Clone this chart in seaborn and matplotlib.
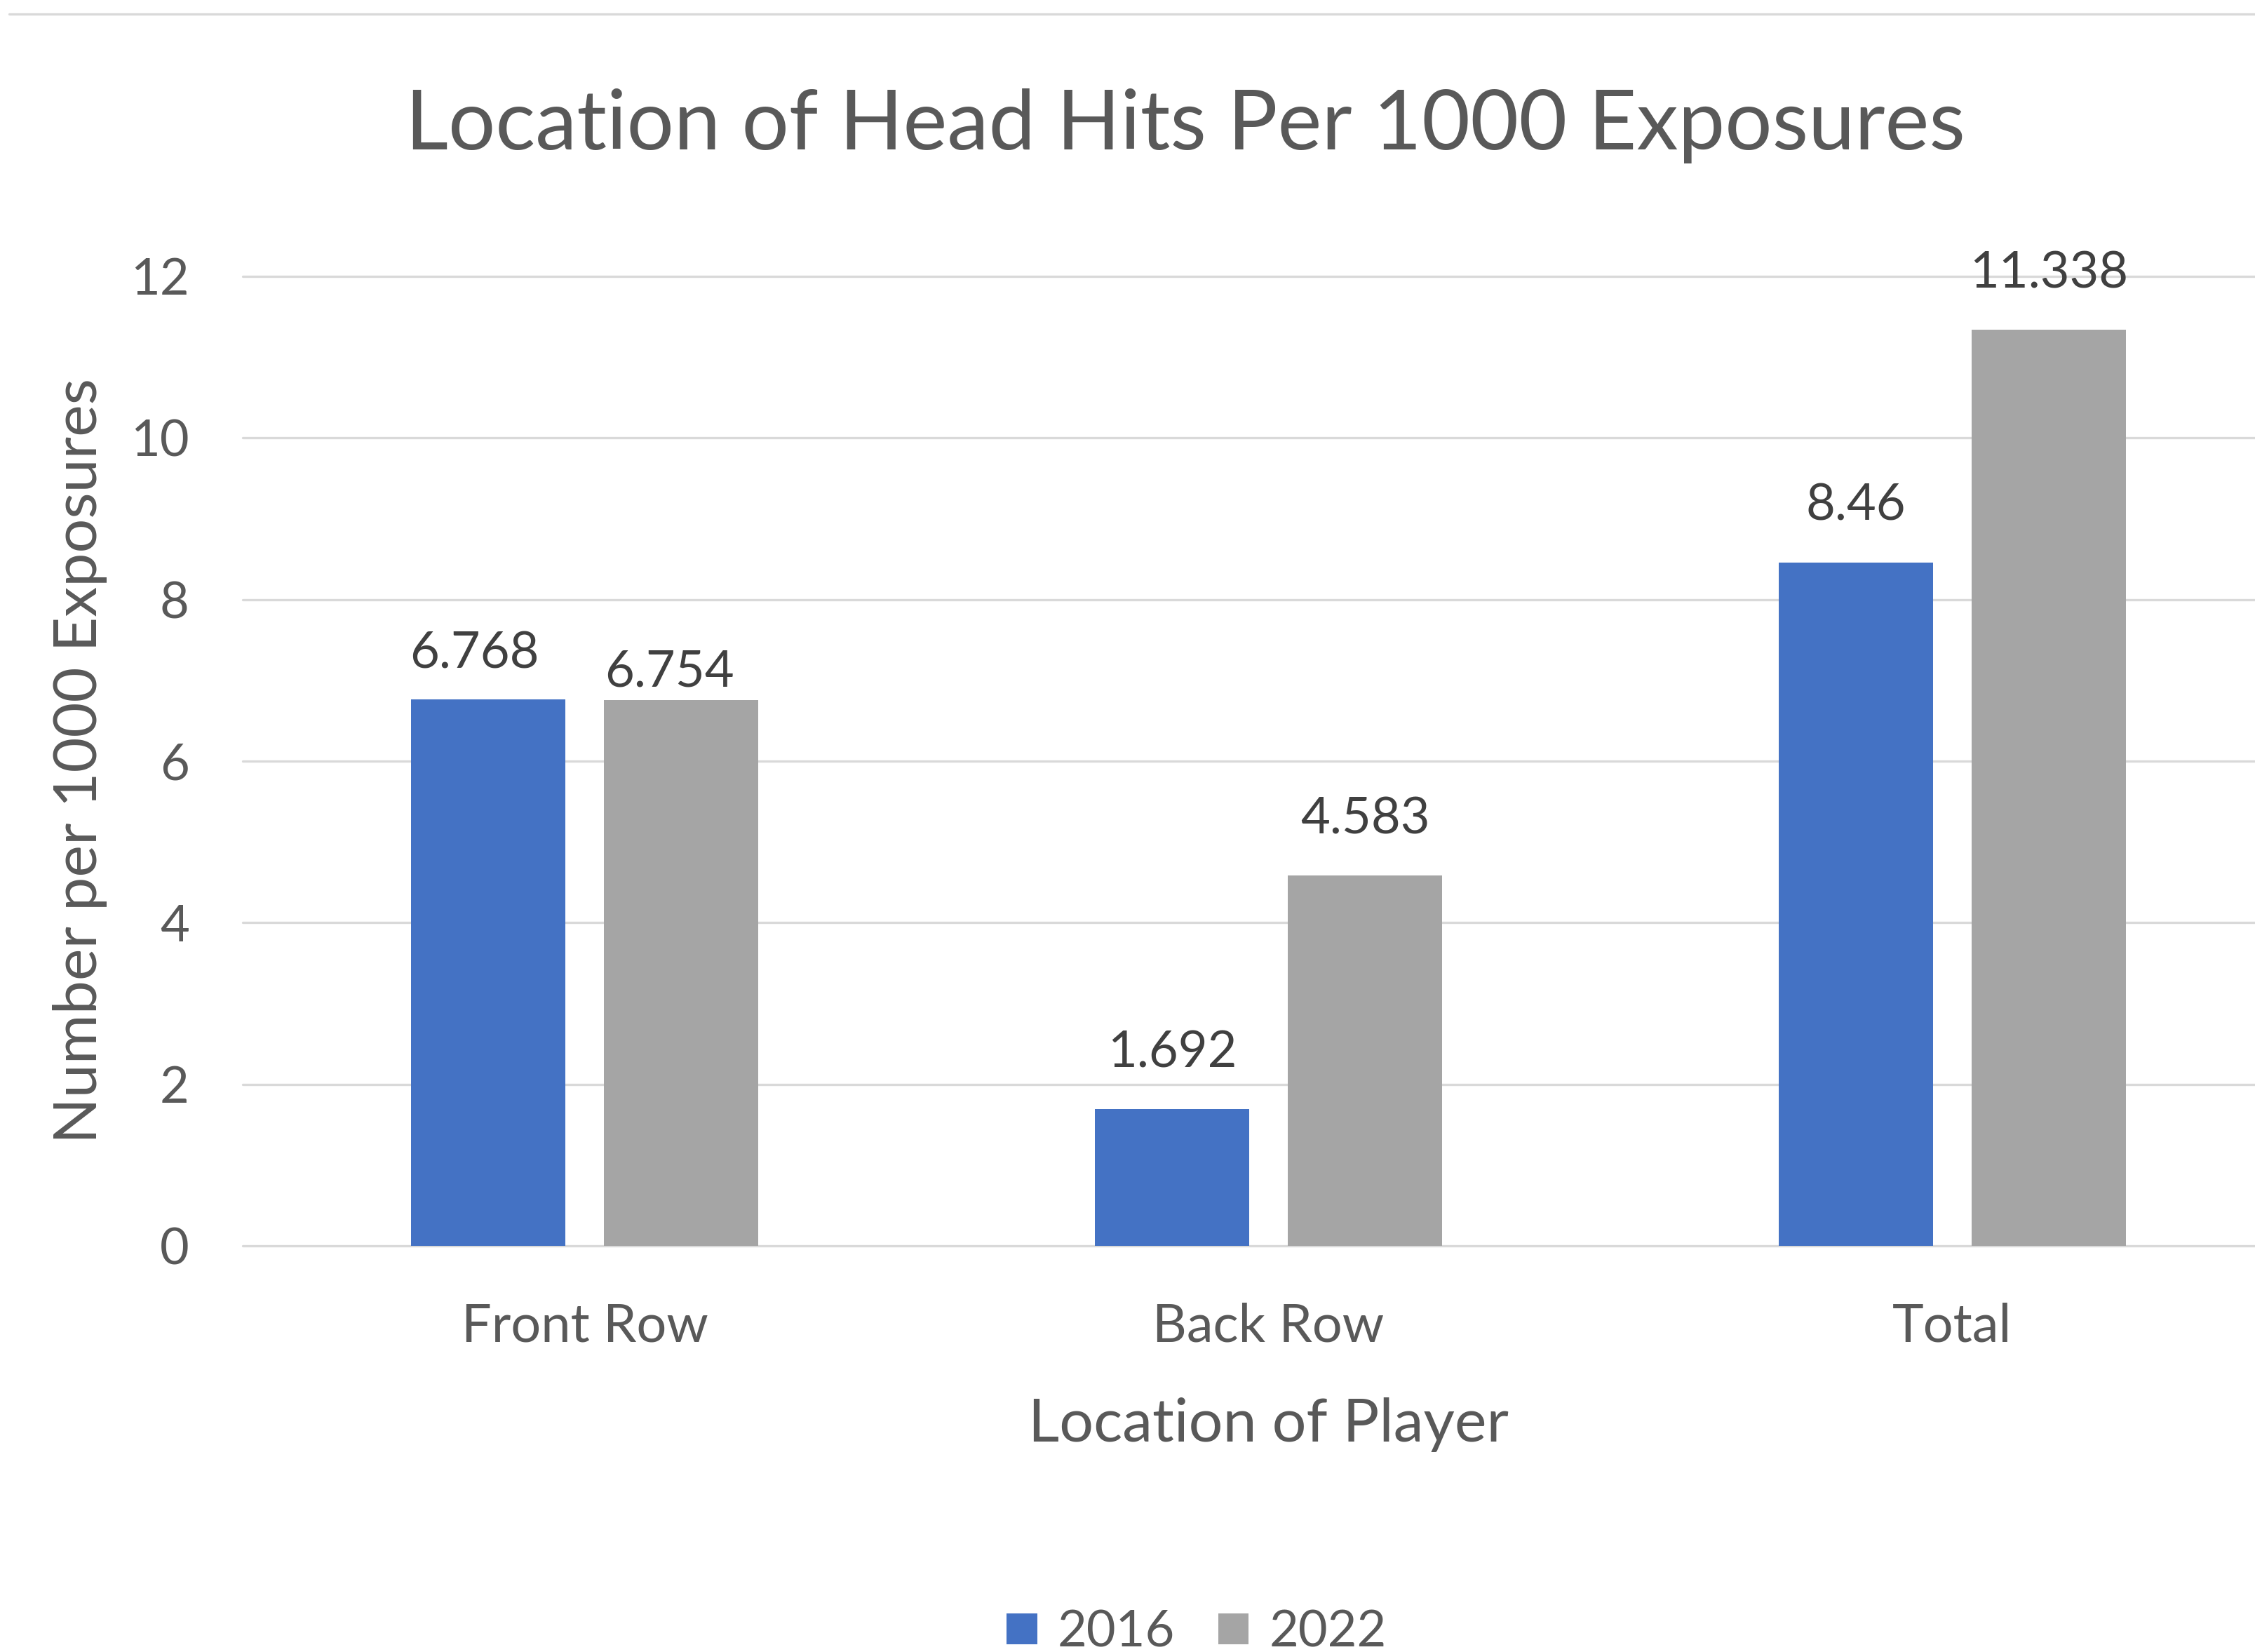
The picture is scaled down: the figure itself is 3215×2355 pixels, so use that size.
import matplotlib
matplotlib.use("Agg")
import matplotlib.pyplot as plt
from matplotlib.lines import Line2D
import seaborn as sns
import pandas as pd

# ---- data ----
categories = ["Front Row", "Back Row", "Total"]
years = ["2016", "2022"]
values_2016 = [6.768, 1.692, 8.46]
values_2022 = [6.754, 4.583, 11.338]
yticks = [0, 2, 4, 6, 8, 10, 12]
title = "Location of Head Hits Per 1000 Exposures"
xlabel = "Location of Player"
ylabel = "Number per 1000 Exposures"

# ---- styling ----
BLUE = "#4472C4"
GRAY = "#A5A5A5"
TEXT = "#595959"
LABEL = "#404040"
GRID = "#D9D9D9"

# label nudges in points (dx, dy above bar top, to baseline)
label_offsets = {
    ("Front Row", "2016"): (-14, 32),
    ("Front Row", "2022"): (-12, 14),
}
default_offset = (0, 43)

df = pd.DataFrame({
    "Location": categories * 2,
    "Year": [years[0]] * len(categories) + [years[1]] * len(categories),
    "Value": values_2016 + values_2022,
})
series = {years[0]: values_2016, years[1]: values_2022}

sns.set_theme(style="white")
plt.rcParams["font.family"] = ["Lato", "DejaVu Sans"]

W, H = 3215, 2355
fig = plt.figure(figsize=(W / 100, H / 100), dpi=100)
fig.patch.set_facecolor("white")

ax_left, ax_w_px = 346, 2925
ax_bottom_px, ax_top_px = 1776, 394
ax = fig.add_axes([ax_left / W, (H - ax_bottom_px) / H, ax_w_px / W,
                   (ax_bottom_px - ax_top_px) / H])

sns.barplot(data=df, x="Location", y="Value", hue="Year", order=categories,
            hue_order=years, palette=[BLUE, GRAY], width=0.564, gap=0.2,
            saturation=1, errorbar=None, linewidth=0, ax=ax)

ax.set_xlim(-0.5, 2.5)
ax.set_ylim(0, 12)
ax.set_yticks(yticks)
ax.set_yticklabels([str(t) for t in yticks])
ax.grid(axis="y", color=GRID, linewidth=2.4)
ax.grid(axis="x", visible=False)
ax.set_axisbelow(True)
for gl in ax.get_ygridlines():
    gl.set_clip_on(False)
for sp in ax.spines.values():
    sp.set_visible(False)
ax.set_facecolor("white")

ax.tick_params(axis="y", length=0, pad=55, labelsize=52, labelcolor=TEXT)
ax.tick_params(axis="x", length=0, pad=58, labelsize=54.5, labelcolor=TEXT)

ax.set_xlabel(xlabel, fontsize=62, color=TEXT)
ax.xaxis.set_label_coords(0.5, -0.156)
ax.set_ylabel(ylabel, fontsize=62, color=TEXT, va="baseline")
ax.yaxis.set_label_coords(-0.0712, 0.5)

# data labels
for container, year in zip(ax.containers, years):
    for patch, cat, val in zip(container.patches, categories, series[year]):
        dx, dy = label_offsets.get((cat, year), default_offset)
        ax.annotate(str(val),
                    xy=(patch.get_x() + patch.get_width() / 2, patch.get_height()),
                    xytext=(dx, dy), textcoords="offset points",
                    ha="center", va="baseline", fontsize=52, color=LABEL,
                    annotation_clip=False)

# title
fig.text(1690 / W, 1 - 213 / H, title, ha="center", va="baseline",
         fontsize=85.6, color=TEXT)

# legend
handles, labels = ax.get_legend_handles_labels()
if ax.legend_ is not None:
    ax.legend_.remove()
fig.legend(handles, labels, loc="center", bbox_to_anchor=(1706 / W, 1 - 2327 / H),
           ncol=2, frameon=False, fontsize=52, labelcolor=TEXT,
           handlelength=0.6, handleheight=0.57, handletextpad=0.4,
           columnspacing=0.86, borderpad=0, borderaxespad=0)

# chart-area top border
fig.add_artist(Line2D([0.004, 1.0], [1 - 20 / H, 1 - 20 / H],
                      transform=fig.transFigure, color=GRID, linewidth=2.4))

fig.savefig("out.png", dpi=100, facecolor="white")
